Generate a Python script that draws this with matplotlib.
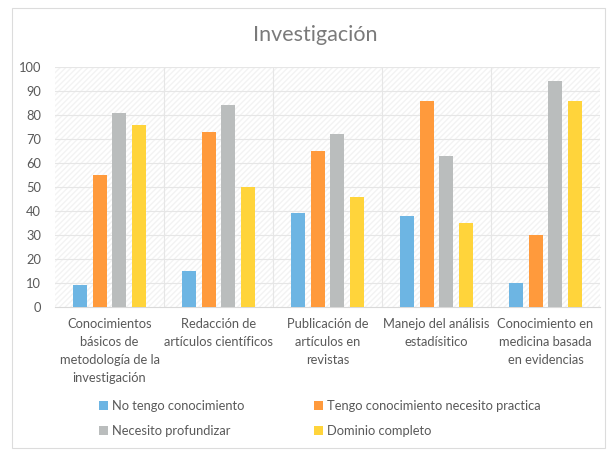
import numpy as np
import matplotlib
matplotlib.use("Agg")
import matplotlib.pyplot as plt
from matplotlib.patches import Rectangle

categories = [
    "Conocimientos\nbásicos de\nmetodología de la\ninvestigación",
    "Redacción de\nartículos científicos",
    "Publicación de\nartículos en\nrevistas",
    "Manejo del análisis\nestadísitico",
    "Conocimiento en\nmedicina basada\nen evidencias",
]
series_names = [
    "No tengo conocimiento",
    "Tengo conocimiento necesito practica",
    "Necesito profundizar",
    "Dominio completo",
]
no_tengo = [9, 15, 39, 38, 10]
tengo_practica = [55, 73, 65, 86, 30]
profundizar = [81, 84, 72, 63, 94]
dominio = [76, 50, 46, 35, 86]
colors = ["#6DB5E3", "#FF9A3C", "#BABDBD", "#FFD43B"]

plt.rcParams["font.family"] = ["Lato", "DejaVu Sans"]
txt = "#595959"

fig = plt.figure(figsize=(6.08, 4.51), dpi=100)
fig.patches.append(Rectangle((12/608, 1-448/451), 593/608, 440/451,
                             transform=fig.transFigure, fill=False,
                             edgecolor="#dcdcdc", lw=0.8))
ax = fig.add_axes([55/608, 1-307/451, 545/608, 240/451])

# faint diagonal texture of the plot area
ax.add_patch(Rectangle((0, 0), 1, 1, transform=ax.transAxes, fill=False,
                       hatch="//////", edgecolor="#f3f3f3", lw=0, zorder=0))

x = np.arange(len(categories))
w = 0.128
step = 0.183
bars = []
for i, (vals, c, name) in enumerate(zip([no_tengo, tengo_practica, profundizar, dominio],
                                        colors, series_names)):
    bars.append(ax.bar(x + (i - 1.5) * step, vals, w, color=c, label=name, zorder=3))

ax.set_xlim(-0.5, len(categories) - 0.5)
ax.set_ylim(0, 100)
ax.set_yticks(range(0, 101, 10))
ax.set_xticks(x)
ax.set_xticklabels(categories, fontsize=9.3, color=txt, linespacing=1.6)
ax.tick_params(axis="y", labelsize=9.3, colors=txt, length=0, pad=10)
ax.tick_params(axis="x", length=0, pad=8)
for yv in range(10, 101, 10):
    ax.axhline(yv, color="#e6e6e6", lw=0.8, zorder=1)
for xv in np.arange(0.5, len(categories) - 0.5, 1):
    ax.axvline(xv, color="#e6e6e6", lw=0.8, zorder=1)
for s in ["top", "right", "left"]:
    ax.spines[s].set_visible(False)
ax.spines["bottom"].set_color("#d9d9d9")

fig.text(315/608, 1-35/451, "Investigación", ha="center", va="center",
         fontsize=15.5, color="#7a7a7a")

order = [0, 2, 1, 3]
ax.legend([bars[i] for i in order], [series_names[i] for i in order],
          loc="upper left", bbox_to_anchor=(0.06, -0.34), ncol=2, frameon=False,
          fontsize=9.3, labelcolor=txt, handlelength=0.7, handleheight=0.7,
          handletextpad=0.3, columnspacing=5.4, labelspacing=1.0)

fig.savefig("out.png", dpi=100)
